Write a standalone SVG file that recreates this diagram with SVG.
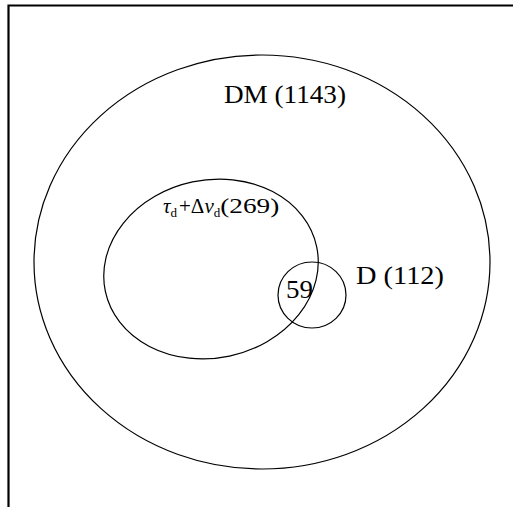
<svg xmlns="http://www.w3.org/2000/svg" width="513" height="507" viewBox="0 0 513 507">
<style>
.e{fill:none;stroke:#000;stroke-width:1.2}
.t{font-family:"Liberation Serif",serif;font-size:26px;fill:#000}
.m{font-family:"Liberation Serif",serif;font-size:21px;fill:#000}
.s{font-family:"Liberation Serif",serif;font-size:13px;fill:#000}
</style>
<rect width="513" height="507" fill="#fff"/>
<g id="frame"><path d="M8.5,507 V5.5 H513" fill="none" stroke="#000" stroke-width="2.2"/></g>
<g id="DM"><ellipse class="e" cx="262" cy="262" rx="228" ry="207"/>
<text class="t" x="224" y="103" textLength="122" lengthAdjust="spacingAndGlyphs">DM (1143)</text></g>
<g id="TD"><ellipse class="e" cx="211" cy="269" rx="108" ry="89" transform="rotate(-12 211 269)"/>
<text class="m" x="163" y="213"><tspan font-style="italic">τ</tspan><tspan class="s" dy="4">d</tspan><tspan dy="-4" dx="2">+Δ</tspan><tspan font-style="italic">ν</tspan><tspan class="s" dy="4">d</tspan><tspan dy="-4" textLength="59" lengthAdjust="spacingAndGlyphs">(269)</tspan></text></g>
<g id="D"><ellipse class="e" cx="312" cy="295" rx="34" ry="33"/>
<text class="t" x="356" y="284" font-size="23" textLength="88" lengthAdjust="spacingAndGlyphs">D (112)</text></g>
<g id="I"><text class="t" x="286" y="298" font-size="25" textLength="27" lengthAdjust="spacingAndGlyphs">59</text></g>
<g id="connectors"/>
</svg>
